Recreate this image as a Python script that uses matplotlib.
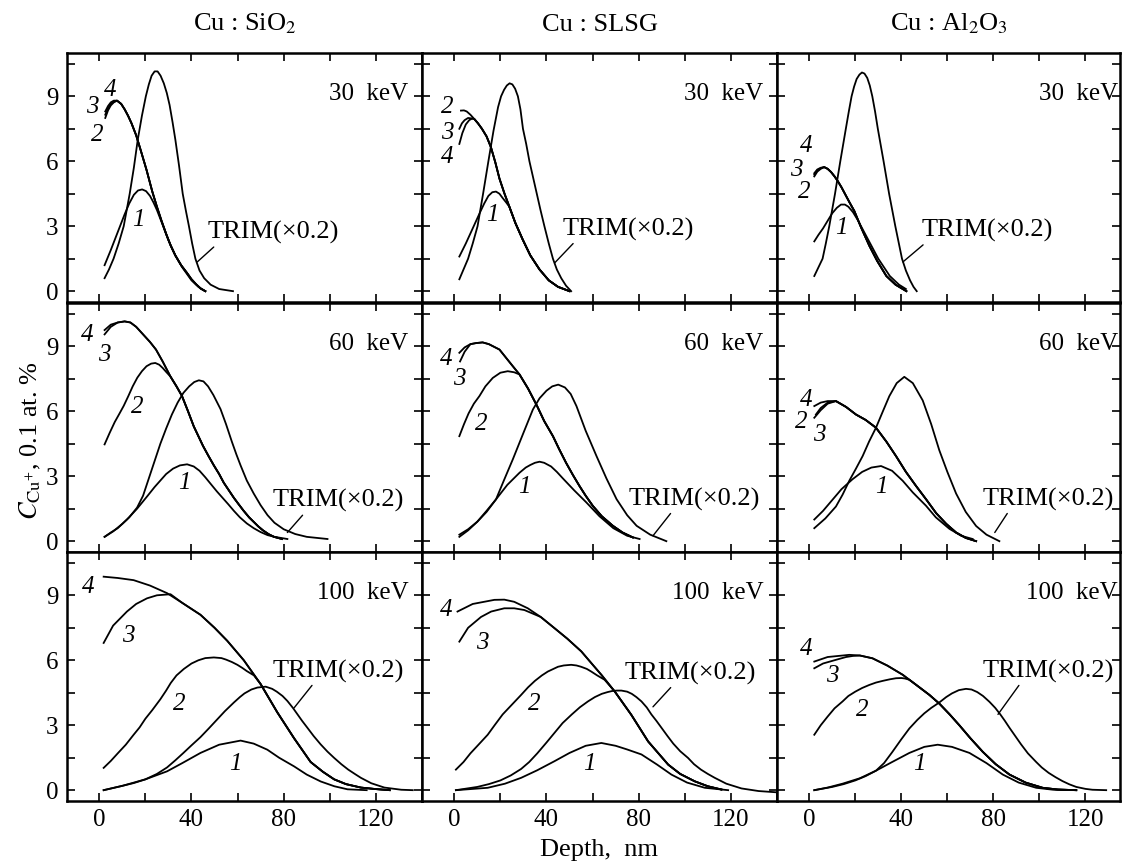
import matplotlib
matplotlib.use("Agg")
import matplotlib.pyplot as plt
from matplotlib.ticker import MultipleLocator

plt.rcParams['font.family'] = ['Liberation Serif', 'DejaVu Serif']
plt.rcParams['mathtext.fontset'] = 'stix'

# ---- data: depth (nm) and C (0.1 at.%) ----
# Cu : SiO2, 30 keV
sio2_30_tail_d = [7.7, 9.5, 11, 12.5, 14, 16, 18, 20.5, 23, 25, 27, 29, 31, 33, 35.5, 38, 40, 42, 44, 46]
sio2_30_tail_v = [8.8, 8.65, 8.4, 8.1, 7.75, 7.2, 6.5, 5.6, 4.6, 3.9, 3.25, 2.65, 2.1, 1.65, 1.2, 0.85,
                  0.55, 0.32, 0.12, 0.0]
sio2_30 = {
    '1': ([2.3, 5, 7, 9, 11, 13, 15, 16.8, 18.6, 20.3, 22, 23.5, 25, 27, 30, 33, 36, 40, 43, 46],
          [1.2, 1.9, 2.45, 3.0, 3.55, 4.05, 4.45, 4.65, 4.7, 4.62, 4.4, 4.1, 3.75, 3.2, 2.35, 1.65,
           1.1, 0.5, 0.2, 0.0]),
    '2': ([2.6, 3.8, 5, 6.3] + sio2_30_tail_d, [8.0, 8.35, 8.58, 8.72] + sio2_30_tail_v),
    '3': ([2.6, 3.8, 5, 6.3] + sio2_30_tail_d, [8.15, 8.45, 8.65, 8.75] + sio2_30_tail_v),
    '4': ([2.6, 3.8, 5, 6.3] + sio2_30_tail_d, [8.3, 8.55, 8.72, 8.8] + sio2_30_tail_v),
    'TRIM': ([2.3, 4.2, 6.2, 8.4, 10.6, 13.2, 15, 16.7, 18.5, 20.2, 21.5, 22.7, 24, 25.3, 26.6, 28,
              29.3, 30.5, 31.8, 33, 34.6, 36.2, 37.6, 38.9, 40.3, 41.7, 43.5, 45.5, 48.3, 52, 58],
             [0.6, 1.0, 1.5, 2.2, 3.0, 4.5, 5.7, 7.0, 8.1, 9.0, 9.55, 9.95, 10.15, 10.15, 9.95, 9.6,
              9.15, 8.6, 7.8, 7.0, 5.8, 4.5, 3.7, 3.0, 2.2, 1.5, 0.95, 0.6, 0.3, 0.1, 0.0]),
}

# Cu : SLSG, 30 keV
slsg_30_tail_d = [8.7, 10.3, 12, 14, 15.9, 17.8, 19.6, 21.8, 23.9, 26.5, 29.7, 33, 37, 41, 45, 50]
slsg_30_tail_v = [7.95, 7.75, 7.5, 7.15, 6.65, 5.95, 5.2, 4.5, 3.9, 3.15, 2.38, 1.65, 1.0, 0.5, 0.2, 0.0]
slsg_30 = {
    '1': ([2.2, 5, 8, 11, 13, 14.8, 16.5, 18.1, 19.6, 21, 22.5] + slsg_30_tail_d[8:],
          [1.6, 2.2, 2.9, 3.6, 4.05, 4.4, 4.57, 4.6, 4.5, 4.3, 4.1] + slsg_30_tail_v[8:]),
    '2': ([2.9, 4.2, 5.4, 7] + slsg_30_tail_d, [8.34, 8.35, 8.3, 8.15] + slsg_30_tail_v),
    '3': ([2.2, 3.3, 4.5, 6, 7.4] + slsg_30_tail_d, [7.5, 7.75, 7.9, 8.0, 7.98] + slsg_30_tail_v),
    '4': ([2.2, 3.5, 5, 6.5, 7.7] + slsg_30_tail_d, [6.8, 7.3, 7.7, 7.9, 7.97] + slsg_30_tail_v),
    'TRIM': ([2.2, 4, 6, 8, 10.1, 12.5, 14.8, 17, 19, 20.3, 21.6, 22.8, 24, 25.2, 26.4, 27.6, 28.7,
              29.8, 31.2, 32.6, 34.2, 35.8, 37.4, 39.1, 41, 42.8, 44.5, 46.4, 48.5, 50.7],
             [0.55, 1.0, 1.5, 2.2, 3.0, 4.5, 6.0, 7.4, 8.5, 9.0, 9.3, 9.5, 9.6, 9.55, 9.35, 9.0, 8.4,
              7.5, 6.8, 6.0, 5.25, 4.5, 3.75, 3.0, 2.2, 1.5, 1.0, 0.6, 0.25, 0.0]),
}

# Cu : Al2O3, 30 keV
al2o3_30_tail_d = [6.5, 8, 9.5, 11, 12.3, 14, 15.5, 17.5, 19.6, 22.5, 26.1, 29.5, 33.5, 37.5, 42.2]
al2o3_30_tail_v = [5.73, 5.65, 5.5, 5.3, 5.1, 4.8, 4.5, 4.1, 3.7, 2.95, 2.1, 1.4, 0.7, 0.3, 0.0]
al2o3_30 = {
    '1': ([2.2, 4, 6, 8, 10, 12, 13.8, 15.5, 17, 19, 21, 23, 25, 27.5, 30, 32.5, 35, 39, 42],
          [2.3, 2.6, 2.9, 3.25, 3.6, 3.85, 4.0, 4.0, 3.9, 3.65, 3.3, 2.9, 2.5, 2.0, 1.5, 1.1, 0.7,
           0.3, 0.1]),
    '2': ([2.2, 3.5, 5] + al2o3_30_tail_d, [5.3, 5.52, 5.65] + al2o3_30_tail_v),
    '3': ([2.2, 3.5, 5] + al2o3_30_tail_d, [5.38, 5.58, 5.68] + al2o3_30_tail_v),
    '4': ([2.2, 3.5, 5] + al2o3_30_tail_d, [5.45, 5.62, 5.7] + al2o3_30_tail_v),
    'TRIM': ([2.2, 4, 5.8, 7.2, 8.7, 11.2, 13.5, 15.9, 17.2, 18.4, 19.5, 20.6, 21.8, 22.9, 24, 25.2,
              26.3, 27.4, 28.6, 29.8, 32.3, 34.7, 37.4, 40.3, 42, 43.8, 45.3, 46.7],
             [0.7, 1.1, 1.5, 2.2, 3.0, 4.5, 6.0, 7.5, 8.3, 9.0, 9.45, 9.8, 10.0, 10.1, 10.05, 9.85,
              9.5, 9.0, 8.3, 7.5, 6.0, 4.5, 3.0, 1.5, 0.95, 0.5, 0.2, 0.0]),
}

# Cu : SiO2, 60 keV
sio2_60_mid_d = [8, 11, 13.5, 16, 19, 22, 24.6, 27.5]
sio2_60_mid_v = [10.1, 10.15, 10.1, 9.9, 9.55, 9.2, 8.85, 8.3]
sio2_60_tail_d = [30.9, 33.5, 35.9, 38.5, 41, 43, 45, 47.3, 49.7, 52, 54, 56.2, 58.4, 60.5, 62.5, 65,
                  67.1, 69, 71, 73.5, 75.8, 79.3]
sio2_60_tail_v = [7.6, 7.15, 6.7, 6.0, 5.3, 4.85, 4.4, 3.95, 3.5, 3.1, 2.7, 2.35, 2.0, 1.7, 1.42, 1.1,
                  0.88, 0.68, 0.5, 0.32, 0.2, 0.1]
sio2_60 = {
    '1': ([2.3, 5, 8, 12, 16.4, 21, 24, 26.5, 29, 32, 35, 38.1, 41, 43.5, 46, 48.3, 51, 53.5, 56,
           58.4, 61, 64, 67, 70, 73, 76, 81.6],
          [0.2, 0.4, 0.6, 1.0, 1.5, 2.1, 2.5, 2.8, 3.1, 3.35, 3.5, 3.55, 3.45, 3.25, 2.95, 2.65, 2.3,
           2.0, 1.7, 1.4, 1.1, 0.82, 0.6, 0.42, 0.28, 0.2, 0.1]),
    '2': ([2.3, 4.5, 6.7, 8.8, 10.6, 12.6, 14.5, 16.5, 18.5, 20.5, 22.5, 24.3, 26, 27.5, 29]
          + sio2_60_tail_d,
          [4.47, 5.0, 5.5, 5.9, 6.25, 6.7, 7.15, 7.55, 7.85, 8.08, 8.2, 8.23, 8.15, 8.0, 7.82]
          + sio2_60_tail_v),
    '3': ([2.3, 5] + sio2_60_mid_d + sio2_60_tail_d,
          [9.55, 9.9] + sio2_60_mid_v + sio2_60_tail_v),
    '4': ([2.3, 5] + sio2_60_mid_d + sio2_60_tail_d,
          [9.75, 10.0] + sio2_60_mid_v + sio2_60_tail_v),
    'TRIM': ([2.3, 6, 10, 13, 16.4, 19, 21.5, 24, 26.5, 29, 31.5, 34, 36.5, 39, 41.2, 43.2, 45.2,
              47.2, 49.5, 52.6, 55, 57.5, 59.5, 61.3, 64, 67, 70, 73, 76, 80, 85, 90, 99],
             [0.2, 0.45, 0.8, 1.1, 1.55, 2.1, 2.9, 3.7, 4.5, 5.2, 5.85, 6.4, 6.85, 7.15, 7.35, 7.43,
              7.38, 7.15, 6.75, 6.1, 5.4, 4.6, 4.0, 3.5, 2.8, 2.2, 1.66, 1.2, 0.85, 0.55, 0.33, 0.2,
              0.1]),
}

# Cu : SLSG, 60 keV
slsg_60_mid_d = [7, 9.5, 12.3, 15, 19.6, 25.4]
slsg_60_mid_v = [9.1, 9.15, 9.18, 9.1, 8.85, 8.08]
slsg_60_tail_d = [28.3, 32, 35.8, 39, 42.8, 45.5, 48.5, 51.5, 54.3, 57, 60.1, 64, 68.8, 73, 77.5]
slsg_60_tail_v = [7.7, 7.05, 6.27, 5.55, 4.85, 4.25, 3.62, 3.05, 2.55, 2.1, 1.63, 1.15, 0.71, 0.4, 0.17]
slsg_60 = {
    '1': ([2.2, 6, 10, 14, 18.1, 23, 28.3, 31, 33, 35, 37, 39, 42, 44.5, 47.1, 52, 57.2, 63, 69,
           75, 80.4],
          [0.2, 0.5, 0.9, 1.4, 1.93, 2.6, 3.16, 3.4, 3.52, 3.62, 3.67, 3.62, 3.45, 3.2, 2.9, 2.35, 1.8,
           1.15, 0.6, 0.25, 0.1]),
    '2': ([2.2, 4.2, 6.2, 8.5, 10.9, 13.5, 16.7, 20, 23.2, 26] + slsg_60_tail_d,
          [4.85, 5.4, 5.9, 6.35, 6.7, 7.15, 7.54, 7.78, 7.85, 7.8] + slsg_60_tail_v),
    '3': ([2.5, 4.5] + slsg_60_mid_d + slsg_60_tail_d, [8.3, 8.75] + slsg_60_mid_v + slsg_60_tail_v),
    '4': ([2.2, 4.5] + slsg_60_mid_d + slsg_60_tail_d, [8.7, 8.95] + slsg_60_mid_v + slsg_60_tail_v),
    'TRIM': ([2.2, 6, 10, 14, 18.1, 21.5, 25.4, 30, 34.1, 37, 40, 42.5, 45.1, 48, 50.5, 53, 57,
              61.7, 66, 70.4, 75, 79.1, 85, 92],
             [0.3, 0.55, 0.9, 1.35, 1.93, 2.8, 3.78, 5.0, 6.08, 6.6, 6.95, 7.15, 7.23, 7.1, 6.8,
              6.24, 5.1, 3.93, 2.9, 1.94, 1.2, 0.71, 0.3, 0.0]),
}

# Cu : Al2O3, 60 keV
al2o3_60_tail_d = [11.6, 16, 20.3, 24.5, 29, 33.5, 37.7, 42, 46.4, 51, 55.1, 59.5, 63.8, 68, 72.5]
al2o3_60_tail_v = [6.47, 6.2, 5.85, 5.6, 5.24, 4.6, 3.93, 3.2, 2.55, 1.9, 1.3, 0.8, 0.4, 0.15, 0.0]
al2o3_60 = {
    '1': ([2.2, 6, 10, 14, 18.8, 23, 27, 31.2, 36, 40.6, 45, 50.7, 55, 60.9, 66, 71],
          [1.0, 1.4, 1.9, 2.4, 2.86, 3.2, 3.4, 3.47, 3.25, 2.79, 2.25, 1.64, 1.1, 0.57, 0.25, 0.1]),
    '2': ([2.2, 5, 8] + al2o3_60_tail_d, [5.7, 6.05, 6.35] + al2o3_60_tail_v),
    '3': ([2.9, 5, 8] + al2o3_60_tail_d, [5.85, 6.15, 6.4] + al2o3_60_tail_v),
    '4': ([2.2, 5, 8] + al2o3_60_tail_d, [6.24, 6.4, 6.47] + al2o3_60_tail_v),
    'TRIM': ([2.2, 7, 11.6, 14.5, 17.4, 20.3, 23.2, 26, 29, 32, 34.8, 38, 41.3, 45, 49.3, 53,
              56.5, 60, 63.8, 68, 72.5, 77, 82.6],
             [0.6, 1.05, 1.6, 2.15, 2.79, 3.35, 3.93, 4.6, 5.24, 6.0, 6.7, 7.3, 7.59, 7.3, 6.5, 5.4,
              4.2, 3.2, 2.2, 1.35, 0.7, 0.3, 0.0]),
}

# Cu : SiO2, 100 keV
sio2_100_c4_d = [1.9, 8, 14.9, 22, 29.4, 36, 43.9, 50, 55.5, 62.7, 70, 77.2, 84.5, 91.7, 97,
                 101.9, 107, 113.5, 120, 126]
sio2_100_c4_v = [9.86, 9.8, 9.7, 9.45, 9.1, 8.65, 8.1, 7.5, 6.9, 6.0, 4.9, 3.6, 2.4, 1.3, 0.85,
                 0.5, 0.28, 0.12, 0.05, 0.0]
sio2_100 = {
    '1': ([1.9, 10, 20, 29.4, 36, 43.9, 52, 61.3, 67, 72.9, 78, 84.5, 90, 96.1, 102, 107.7, 116],
          [0.0, 0.2, 0.5, 0.87, 1.25, 1.72, 2.1, 2.29, 2.15, 1.87, 1.5, 1.1, 0.72, 0.4, 0.18, 0.04, 0.0]),
    '2': ([1.9, 5, 8, 11.5, 14.9, 17.5, 20, 23, 26.5, 29, 31, 33.5, 36.7, 40, 43, 46, 49.7, 53, 55,
           57.5, 59.9, 62, 64, 67.1] + sio2_100_c4_d[10:],
          [1.03, 1.35, 1.7, 2.1, 2.56, 2.9, 3.3, 3.7, 4.2, 4.6, 4.95, 5.3, 5.6, 5.85, 6.0, 6.1, 6.13,
           6.1, 6.03, 5.92, 5.79, 5.65, 5.5, 5.3] + sio2_100_c4_v[10:]),
    '3': ([1.9, 6, 12, 16, 20.7, 25, 30.9] + sio2_100_c4_d[5:],
          [6.8, 7.6, 8.25, 8.6, 8.86, 9.0, 9.05] + sio2_100_c4_v[5:]),
    '4': (sio2_100_c4_d, sio2_100_c4_v),
    'TRIM': ([1.9, 10, 15, 20, 25, 29.4, 33, 36.5, 40, 43.9, 47.5, 51, 54.5, 58.4, 61, 63, 66, 68.6,
              72.2, 75, 77, 79.5, 81.6, 84, 86, 88, 90.3, 93, 96, 99, 101.9, 105, 108, 111, 113.5,
              118, 123.7, 131, 136],
             [0.0, 0.2, 0.33, 0.5, 0.75, 1.05, 1.38, 1.72, 2.07, 2.45, 2.85, 3.25, 3.65, 4.05, 4.3,
              4.47, 4.65, 4.74, 4.78, 4.68, 4.55, 4.35, 4.12, 3.8, 3.5, 3.2, 2.88, 2.5, 2.12, 1.78,
              1.49, 1.2, 0.95, 0.74, 0.57, 0.32, 0.12, 0.02, 0.0]),
}

# Cu : SLSG, 100 keV
slsg_100_c4_d = [1.4, 8, 17.4, 21.7, 26, 31.9, 37.5, 43.5, 49, 55.1, 60, 63.8, 69.6, 76.8, 84.1,
                 92.8, 98, 104.3, 110, 115.9]
slsg_100_c4_v = [8.25, 8.6, 8.79, 8.8, 8.7, 8.4, 8.0, 7.48, 7.0, 6.41, 5.8, 5.33, 4.56, 3.48, 2.25,
                 1.18, 0.75, 0.41, 0.18, 0.03]
slsg_100 = {
    '1': ([0.7, 7, 14.5, 22, 29, 36, 43.5, 50, 57, 63.8, 70, 75, 81.2, 88, 94.2, 101, 108.7, 118.8],
          [0.0, 0.05, 0.11, 0.3, 0.57, 0.92, 1.34, 1.72, 2.05, 2.18, 2.05, 1.88, 1.65, 1.18, 0.72,
           0.35, 0.11, 0.0]),
    '2': ([0.7, 4, 7, 10.5, 14.5, 17.5, 21, 25, 29, 32, 35, 38, 40.6, 43, 45, 47.5, 50.7, 53, 55,
           57.5, 59.4, 62, 65.2] + slsg_100_c4_d[12:],
          [0.95, 1.3, 1.7, 2.1, 2.56, 3.0, 3.5, 3.95, 4.4, 4.75, 5.05, 5.3, 5.48, 5.6, 5.7, 5.76,
           5.79, 5.76, 5.7, 5.6, 5.48, 5.3, 5.1] + slsg_100_c4_v[12:]),
    '3': ([2.2, 6, 11.6, 16, 21.7, 26, 30.4] + slsg_100_c4_d[6:],
          [6.86, 7.5, 8.0, 8.25, 8.4, 8.4, 8.32] + slsg_100_c4_v[6:]),
    '4': (slsg_100_c4_d, slsg_100_c4_v),
    'TRIM': ([0.7, 10, 15, 20, 24.5, 29, 32.5, 36, 40, 43.5, 47, 51, 54.5, 58, 61, 64, 66.5, 68.5,
              70.5, 72.5, 75, 77, 79, 81.2, 83.5, 85.5, 87.7, 89.9, 92.5, 95, 98, 101.4, 104, 107,
              110, 113, 118, 124.6, 132, 140],
             [0.0, 0.15, 0.28, 0.45, 0.68, 0.98, 1.3, 1.7, 2.2, 2.65, 3.1, 3.5, 3.83, 4.1, 4.3, 4.45,
              4.53, 4.58, 4.6, 4.6, 4.55, 4.45, 4.3, 4.1, 3.82, 3.5, 3.2, 2.88, 2.5, 2.15, 1.8, 1.49,
              1.2, 0.95, 0.75, 0.57, 0.3, 0.08, -0.04, -0.1]),
}

# Cu : Al2O3, 100 keV
al2o3_100_c4_d = [2.2, 8, 17.4, 22, 27.5, 34, 40.6, 46, 52.2, 56.5, 61, 65.2, 70, 75.4, 81, 87,
                  94, 101.4, 108, 116]
al2o3_100_c4_v = [5.94, 6.15, 6.25, 6.22, 6.09, 5.75, 5.33, 4.9, 4.4, 4.0, 3.5, 3.0, 2.4, 1.77,
                  1.2, 0.72, 0.35, 0.11, 0.03, 0.0]
al2o3_100 = {
    '1': ([2.2, 8, 14.5, 22, 29, 36, 43.5, 50, 55.8, 62, 69.6, 77, 84.1, 91, 98.6, 106, 116],
          [0.0, 0.12, 0.3, 0.55, 0.9, 1.3, 1.72, 2.0, 2.1, 2.0, 1.72, 1.25, 0.72, 0.35, 0.11, 0.02, 0.0]),
    '2': ([2.2, 5, 8, 11, 14.5, 17, 20, 23, 26.1, 29, 32, 35, 37.7, 40, 41.5, 43.5] + al2o3_100_c4_d[7:],
          [2.56, 3.0, 3.4, 3.78, 4.1, 4.35, 4.55, 4.72, 4.86, 4.97, 5.05, 5.12, 5.17, 5.18, 5.16, 5.1]
          + al2o3_100_c4_v[7:]),
    '3': ([2.2, 6, 11.6, 16, 19] + al2o3_100_c4_d[3:],
          [5.63, 5.85, 6.02, 6.15, 6.2] + al2o3_100_c4_v[3:]),
    '4': (al2o3_100_c4_d, al2o3_100_c4_v),
    'TRIM': ([2.2, 10, 15, 20, 24.5, 29, 32.5, 36, 40, 43.5, 47, 50, 53, 56.5, 59.5, 62, 65, 68.1,
              70.5, 73, 75.5, 78.3, 80.8, 83, 85, 87, 89.5, 92, 95, 98.6, 101, 104, 107, 110, 113,
              116, 120, 123, 129],
             [0.0, 0.15, 0.28, 0.45, 0.65, 0.9, 1.25, 1.75, 2.35, 2.85, 3.25, 3.55, 3.8, 4.05, 4.3,
              4.47, 4.62, 4.68, 4.65, 4.53, 4.35, 4.08, 3.8, 3.5, 3.2, 2.88, 2.5, 2.12, 1.7, 1.3,
              1.05, 0.8, 0.6, 0.42, 0.27, 0.15, 0.06, 0.02, 0.0]),
}

columns = ['Cu : SiO$_2$', 'Cu : SLSG', 'Cu : Al$_2$O$_3$']
energies = ['30  keV', '60  keV', '100  keV']
panels = [[sio2_30, slsg_30, al2o3_30],
          [sio2_60, slsg_60, al2o3_60],
          [sio2_100, slsg_100, al2o3_100]]

# label placement: curve numbers, TRIM text (text pos, curve point, leader start)
num_labels = [
    [[('4', 4.8, 9.3), ('3', -3.2, 8.5), ('2', -1.0, 7.2), ('1', 17, 3.3)],
     [('2', -2.9, 8.5), ('3', -2.9, 7.3), ('4', -2.9, 6.2), ('1', 16.7, 3.5)],
     [('4', -1.4, 6.7), ('3', -5.8, 5.6), ('2', -2.3, 4.6), ('1', 13.8, 2.9)]],
    [[('4', -5.4, 9.5), ('3', 2.3, 8.6), ('2', 16.4, 6.2), ('1', 36.7, 2.7)],
     [('4', -3.6, 8.4), ('3', 2.2, 7.5), ('2', 11.6, 5.4), ('1', 30.4, 2.5)],
     [('4', -1.4, 6.5), ('2', -3.6, 5.5), ('3', 4.3, 4.9), ('1', 31.2, 2.5)]],
    [[('4', -4.6, 9.4), ('3', 12.7, 7.1), ('2', 34.5, 4.0), ('1', 59.1, 1.2)],
     [('4', -3.6, 8.3), ('3', 12.3, 6.8), ('2', 34.8, 4.0), ('1', 58.7, 1.2)],
     [('4', -1.4, 6.5), ('3', 10.1, 5.25), ('2', 23.2, 3.7), ('1', 47.8, 1.2)]],
]
trim_labels = [
    [((47, 2.7), (42.5, 1.35), 0.07), ((47, 2.86), (43.5, 1.3), 0.1), ((48.6, 2.8), (40.7, 1.35), 0.04)],
    [((75, 1.86), (81.6, 0.4), 0.25), ((75.4, 1.94), (86.2, 0.25), 0.34), ((75.4, 1.94), (80.6, 0.4), 0.2)],
    [((75, 5.5), (84.5, 3.8), 0.32), ((73.9, 5.4), (86.2, 3.85), 0.37), ((75.4, 5.5), (82, 3.5), 0.29)],
]

W, H = 1123, 865
fig = plt.figure(figsize=(W / 100, H / 100), dpi=100)

col_left = [67, 422, 777]
col_width = [355, 355, 343]
col_xmax = [140, 140, 135]
row_top = [53, 303, 552]
row_h = 249

for r in range(3):
    for c in range(3):
        ax = fig.add_axes([col_left[c] / W, 1 - (row_top[r] + row_h) / H,
                           col_width[c] / W, row_h / H])
        for key in ['1', '2', '3', '4', 'TRIM']:
            d, v = panels[r][c][key]
            ax.plot(d, v, color='black', lw=1.3, solid_joinstyle='round')
        ax.set_xlim(-14, col_xmax[c])
        ax.set_ylim(-0.5, 11)
        ax.set_xticks([0, 40, 80, 120])
        ax.set_yticks([0, 3, 6, 9])
        ax.xaxis.set_minor_locator(MultipleLocator(20))
        ax.yaxis.set_minor_locator(MultipleLocator(1.5))
        ax.tick_params(which='both', direction='in', top=True, right=True,
                       length=6, width=1.2, labelsize=18, pad=6)
        ax.tick_params(labelleft=(c == 0), labelbottom=(r == 2))
        for s in ax.spines.values():
            s.set_linewidth(1.8)

        ax.text(134, 9.1, energies[r], ha='right', va='center', fontsize=18)
        for t, x, y in num_labels[r][c]:
            ax.text(x, y, t, fontsize=18, style='italic', ha='center', va='center')
        (tx, ty), (px, py), rel = trim_labels[r][c]
        ax.annotate('TRIM(×0.2)', xy=(px, py), xytext=(tx, ty), fontsize=19,
                    ha='left', va='center',
                    arrowprops=dict(arrowstyle='-', lw=1.0, color='black',
                                    shrinkA=0, shrinkB=0, relpos=(rel, 0)))
        if r == 0:
            ax.set_title(columns[c], fontsize=19, pad=16)

fig.text(0.027, 0.49, r'$C_{\mathrm{Cu}^{+}}$, 0.1 at. %', rotation=90,
         ha='center', va='center', fontsize=19)
fig.text(0.533, 0.017, 'Depth,  nm', ha='center', va='center', fontsize=19)

fig.savefig('out.png', dpi=100)
